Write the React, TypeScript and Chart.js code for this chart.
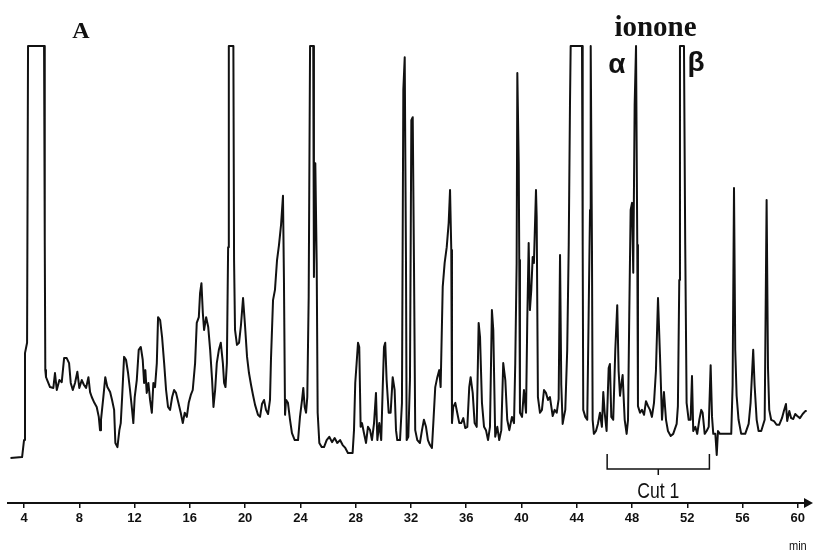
import React, { useEffect, useRef } from "react";
import { Chart, registerables } from "chart.js";

Chart.register(...registerables);

// Retention time (min) of each sampled point of the chromatogram trace
const TIME_MIN: number[] = [
  3.02, 3.86, 4.0, 4.07, 4.22, 4.29, 5.45, 5.5, 5.54, 5.59,
  5.88, 6.12, 6.24, 6.37, 6.56, 6.73, 6.9, 7.09, 7.26, 7.38,
  7.53, 7.69, 7.86, 8.0, 8.18, 8.34, 8.49, 8.66, 8.78, 8.9,
  9.09, 9.26, 9.41, 9.5, 9.57, 9.74, 9.88, 10.03, 10.23, 10.37,
  10.52, 10.61, 10.76, 10.9, 11.0, 11.1, 11.24, 11.38, 11.53, 11.67,
  11.82, 11.91, 12.01, 12.16, 12.3, 12.45, 12.59, 12.69, 12.78, 12.88,
  13.0, 13.12, 13.25, 13.36, 13.48, 13.61, 13.7, 13.85, 13.99, 14.14,
  14.28, 14.42, 14.57, 14.72, 14.86, 15.0, 15.17, 15.34, 15.49, 15.63,
  15.78, 15.92, 16.07, 16.21, 16.38, 16.5, 16.65, 16.74, 16.84, 16.94,
  17.03, 17.18, 17.33, 17.47, 17.61, 17.71, 17.83, 17.95, 18.1, 18.24,
  18.39, 18.48, 18.58, 18.68, 18.77, 18.82, 19.15, 19.2, 19.27, 19.41,
  19.56, 19.7, 19.85, 19.99, 20.14, 20.28, 20.43, 20.57, 20.72, 20.93,
  21.08, 21.22, 21.37, 21.51, 21.66, 21.8, 21.87, 22.02, 22.16, 22.31,
  22.45, 22.6, 22.74, 22.81, 22.89, 22.96, 23.1, 23.25, 23.39, 23.59,
  23.83, 23.97, 24.12, 24.21, 24.31, 24.41, 24.5, 24.6, 24.7, 24.93,
  24.98, 25.08, 25.18, 25.25, 25.37, 25.54, 25.71, 25.9, 26.09, 26.29,
  26.48, 26.67, 26.87, 27.06, 27.25, 27.44, 27.78, 27.88, 27.97, 28.07,
  28.17, 28.26, 28.36, 28.46, 28.6, 28.75, 28.89, 29.04, 29.18, 29.33,
  29.47, 29.57, 29.71, 29.85, 29.96, 30.05, 30.14, 30.24, 30.39, 30.53,
  30.68, 30.82, 30.92, 31.01, 31.21, 31.35, 31.45, 31.55, 31.64, 31.69,
  31.81, 31.93, 32.03, 32.13, 32.22, 32.31, 32.46, 32.65, 32.8, 32.94,
  33.09, 33.23, 33.38, 33.52, 33.62, 33.76, 33.91, 34.05, 34.15, 34.3,
  34.44, 34.59, 34.73, 34.83, 34.92, 34.97, 35.06, 35.21, 35.35, 35.5,
  35.64, 35.79, 35.93, 36.08, 36.22, 36.32, 36.47, 36.61, 36.76, 36.9,
  37.0, 37.14, 37.29, 37.43, 37.58, 37.72, 37.86, 37.96, 38.1, 38.25,
  38.39, 38.54, 38.68, 38.83, 38.97, 39.12, 39.31, 39.46, 39.55, 39.65,
  39.7, 39.8, 39.84, 39.89, 40.04, 40.18, 40.33, 40.42, 40.52, 40.61,
  40.71, 40.81, 40.9, 41.05, 41.1, 41.19, 41.34, 41.48, 41.63, 41.77,
  41.92, 42.06, 42.26, 42.4, 42.55, 42.69, 42.79, 42.88, 42.98, 43.07,
  43.17, 43.31, 43.42, 43.51, 43.56, 44.38, 44.43, 44.47, 44.62, 44.76,
  44.86, 44.96, 45.01, 45.1, 45.15, 45.24, 45.39, 45.53, 45.68, 45.82,
  45.92, 46.02, 46.16, 46.31, 46.4, 46.5, 46.64, 46.79, 46.93, 47.03,
  47.13, 47.22, 47.32, 47.47, 47.61, 47.71, 47.8, 47.9, 48.0, 48.09,
  48.19, 48.29, 48.38, 48.43, 48.58, 48.72, 48.87, 49.01, 49.16, 49.3,
  49.44, 49.59, 49.73, 49.88, 50.02, 50.17, 50.31, 50.46, 50.6, 50.8,
  50.98, 51.23, 51.32, 51.42, 51.47, 51.76, 51.85, 51.95, 52.1, 52.24,
  52.34, 52.43, 52.58, 52.72, 52.87, 53.01, 53.11, 53.26, 53.4, 53.55,
  53.69, 53.79, 53.88, 54.03, 54.13, 54.22, 54.36, 54.85, 55.18, 55.28,
  55.38, 55.47, 55.57, 55.71, 55.9, 56.19, 56.44, 56.58, 56.77, 56.87,
  57.02, 57.16, 57.35, 57.6, 57.74, 57.84, 57.93, 58.07, 58.27, 58.46,
  58.65, 58.85, 58.99, 59.14, 59.23, 59.38, 59.52, 59.67, 59.81, 59.96,
  60.15, 60.35, 60.54, 60.64,
];

// Detector signal (% of full scale; 100 = clipped at the top of the record)
const SIGNAL: number[] = [
  0.5, 0.7, 4.8, 25.8, 28.3, 100, 100, 53.1, 21.7, 20.0,
  17.6, 17.4, 21.0, 16.9, 19.3, 18.8, 24.6, 24.6, 23.4, 18.6,
  16.9, 18.6, 21.3, 17.4, 19.3, 18.1, 17.4, 20.0, 16.4, 15.2,
  13.8, 12.8, 10.4, 7.2, 9.7, 15.2, 20.0, 17.6, 16.4, 14.5,
  12.1, 4.1, 3.1, 7.2, 8.9, 15.2, 24.9, 24.2, 21.0, 16.9,
  12.1, 8.9, 15.2, 19.3, 26.6, 27.3, 24.2, 18.6, 21.7, 16.2,
  18.6, 14.5, 11.4, 18.6, 17.6, 23.4, 34.5, 33.8, 29.7, 23.4,
  16.9, 12.8, 12.1, 15.2, 16.9, 16.2, 13.8, 11.4, 8.9, 11.4,
  10.4, 13.8, 15.7, 16.9, 23.4, 33.1, 34.5, 40.3, 42.7, 35.5,
  31.4, 34.5, 32.1, 26.6, 19.3, 12.8, 16.9, 23.4, 26.6, 28.3,
  23.4, 18.6, 17.6, 23.4, 51.4, 100, 100, 48.3, 31.4, 27.8,
  28.3, 32.6, 39.1, 32.6, 24.9, 21.0, 18.1, 15.7, 13.3, 10.9,
  10.4, 13.5, 14.5, 12.1, 11.1, 14.5, 24.2, 38.6, 41.1, 48.3,
  51.9, 56.8, 63.8, 43.5, 10.9, 14.5, 13.8, 9.7, 6.5, 4.8,
  4.8, 10.4, 14.5, 17.4, 12.8, 11.4, 15.2, 39.4, 100, 100,
  44.2, 71.7, 47.6, 11.4, 4.1, 3.1, 3.1, 4.8, 5.6, 4.3,
  5.3, 4.1, 4.8, 3.6, 2.9, 1.7, 1.7, 7.2, 18.6, 23.4,
  28.3, 27.3, 8.0, 8.9, 6.5, 4.1, 8.0, 7.2, 4.8, 8.9,
  16.2, 4.8, 8.9, 4.8, 17.6, 27.3, 28.3, 19.3, 11.4, 11.4,
  20.0, 16.9, 7.2, 4.8, 4.8, 13.8, 89.4, 97.3, 49.0, 4.8,
  5.6, 19.3, 82.1, 82.8, 47.6, 7.2, 4.8, 4.1, 7.2, 9.7,
  8.0, 4.8, 3.6, 2.9, 8.9, 17.6, 20.0, 21.7, 17.6, 41.8,
  47.6, 51.4, 57.2, 65.2, 50.7, 8.9, 12.8, 13.8, 11.4, 8.9,
  8.9, 10.1, 7.7, 8.0, 17.6, 20.0, 16.2, 8.9, 8.0, 33.1,
  29.7, 13.8, 8.0, 7.2, 4.8, 8.0, 36.2, 31.4, 5.6, 8.0,
  4.8, 7.2, 23.4, 19.3, 9.7, 7.2, 10.4, 8.9, 23.4, 47.6,
  93.5, 71.7, 48.3, 11.4, 10.4, 16.9, 11.4, 33.8, 52.4, 36.2,
  41.1, 49.0, 47.6, 65.2, 58.7, 15.2, 11.4, 12.1, 16.9, 16.2,
  14.5, 15.2, 10.6, 12.1, 11.4, 14.7, 49.5, 18.1, 8.7, 10.4,
  12.1, 26.6, 51.9, 85.7, 100, 100, 51.9, 12.1, 10.4, 9.7,
  35.0, 60.4, 100, 51.9, 9.7, 6.3, 7.0, 8.7, 11.4, 8.0,
  16.4, 11.4, 7.0, 22.2, 23.2, 10.4, 9.7, 26.6, 37.4, 21.5,
  15.5, 18.1, 20.5, 9.7, 6.3, 9.7, 35.0, 60.4, 62.1, 45.2,
  85.7, 100, 51.9, 13.0, 11.4, 12.1, 10.9, 14.2, 13.0, 12.1,
  10.4, 13.8, 21.5, 39.1, 25.6, 9.7, 16.4, 9.7, 7.0, 5.8,
  6.3, 8.7, 13.0, 43.5, 100, 100, 51.9, 13.8, 9.7, 9.7,
  20.3, 7.0, 8.0, 6.3, 9.7, 12.1, 11.4, 6.3, 7.0, 8.0,
  22.9, 10.4, 6.3, 6.3, 1.2, 7.0, 6.3, 6.3, 6.3, 18.1,
  65.7, 26.6, 15.5, 9.7, 6.3, 6.3, 8.7, 13.8, 26.6, 18.1,
  9.7, 7.0, 7.0, 9.7, 62.8, 22.2, 12.1, 9.7, 9.4, 8.5,
  8.5, 10.1, 11.8, 13.5, 9.4, 11.8, 10.1, 9.9, 11.1, 10.6,
  10.1, 11.1, 11.8, 11.8,
];

const X_TICKS: number[] = [4, 8, 12, 16, 20, 24, 28, 32, 36, 40, 44, 48, 52, 56, 60];
const X_RANGE: number[] = [2.84, 60.88];
const Y_RANGE: number[] = [-10.4, 100];
const CUT_RANGE: number[] = [46.2, 53.6];
const CUT_LABEL = "Cut 1";
const PANEL_LABEL = "A";
const COMPOUND_LABEL = "ionone";
const ALPHA_LABEL = "α";
const BETA_LABEL = "β";
const ALPHA_TIME = 46.9;
const BETA_TIME = 52.63;
const COMPOUND_TIME = 49.7;
const PANEL_TIME = 8.12;
const UNIT_LABEL = "min";

const INK = "#111111";

const decorPlugin = {
  id: "decor",
  afterDraw(chart: any) {
    const { ctx, chartArea, scales } = chart;
    const xs = scales.x;
    const axisY = xs.top;
    ctx.save();
    ctx.fillStyle = INK;
    ctx.strokeStyle = INK;

    // arrow head at the end of the time axis
    const tip = chartArea.right + 3;
    ctx.beginPath();
    ctx.moveTo(tip, axisY);
    ctx.lineTo(tip - 9, axisY - 5);
    ctx.lineTo(tip - 9, axisY + 5);
    ctx.closePath();
    ctx.fill();

    // unit label under the last tick
    ctx.save();
    ctx.translate(xs.getPixelForValue(60), axisY + 43);
    ctx.scale(0.85, 1);
    ctx.font = "13px 'Liberation Sans', Arial, sans-serif";
    ctx.textAlign = "center";
    ctx.textBaseline = "middle";
    ctx.fillText(UNIT_LABEL, 0, 0);
    ctx.restore();

    // cut bracket
    const x0 = xs.getPixelForValue(CUT_RANGE[0]);
    const x1 = xs.getPixelForValue(CUT_RANGE[1]);
    const xm = (x0 + x1) / 2;
    const yTop = axisY - 49;
    const yBar = axisY - 34;
    ctx.lineWidth = 1.5;
    ctx.beginPath();
    ctx.moveTo(x0, yTop);
    ctx.lineTo(x0, yBar);
    ctx.lineTo(x1, yBar);
    ctx.lineTo(x1, yTop);
    ctx.moveTo(xm, yBar);
    ctx.lineTo(xm, yBar + 6);
    ctx.stroke();

    ctx.save();
    ctx.translate(xm, axisY - 11);
    ctx.scale(0.8, 1);
    ctx.font = "22px 'Liberation Sans', Arial, sans-serif";
    ctx.textAlign = "center";
    ctx.textBaseline = "middle";
    ctx.fillText(CUT_LABEL, 0, 0);
    ctx.restore();

    // panel and peak labels
    const top = chartArea.top;
    ctx.textAlign = "center";
    ctx.textBaseline = "alphabetic";
    ctx.font = "bold 24px 'Liberation Serif', 'Times New Roman', serif";
    ctx.fillText(PANEL_LABEL, xs.getPixelForValue(PANEL_TIME), top - 8);
    ctx.font = "bold 29px 'Liberation Serif', 'Times New Roman', serif";
    ctx.fillText(COMPOUND_LABEL, xs.getPixelForValue(COMPOUND_TIME), top - 10);
    ctx.font = "bold 28px 'Liberation Sans', Arial, sans-serif";
    ctx.fillText(ALPHA_LABEL, xs.getPixelForValue(ALPHA_TIME), top + 27);
    ctx.fillText(BETA_LABEL, xs.getPixelForValue(BETA_TIME), top + 25);
    ctx.restore();
  },
};

export default function App() {
  const canvasRef = useRef<HTMLCanvasElement | null>(null);

  useEffect(() => {
    const canvas = canvasRef.current;
    if (!canvas) return;
    const points = TIME_MIN.map((t, i) => ({ x: t, y: SIGNAL[i] }));
    const chart = new Chart(canvas, {
      type: "line",
      data: {
        datasets: [
          {
            data: points,
            borderColor: INK,
            borderWidth: 2,
            pointRadius: 0,
            tension: 0,
            fill: false,
            clip: false as any,
            borderJoinStyle: "round",
          },
        ],
      },
      options: {
        responsive: false,
        animation: false,
        devicePixelRatio: 1,
        layout: { padding: { left: 8, right: 8, top: 46, bottom: 0 } },
        plugins: { legend: { display: false }, tooltip: { enabled: false } },
        scales: {
          x: {
            type: "linear",
            min: X_RANGE[0],
            max: X_RANGE[1],
            afterBuildTicks: (s: any) => {
              s.ticks = X_TICKS.map((v) => ({ value: v }));
            },
            afterFit: (s: any) => {
              s.height = 48;
            },
            grid: {
              display: true,
              drawOnChartArea: false,
              drawTicks: true,
              tickLength: 5,
              color: INK,
              lineWidth: 1.5,
            },
            border: { display: true, color: INK, width: 2 },
            ticks: {
              color: INK,
              padding: 3,
              autoSkip: false,
              maxRotation: 0,
              font: {
                family: "'Liberation Sans Narrow', 'Arial Narrow', 'Liberation Sans', sans-serif",
                size: 13,
                weight: "bold",
              },
              callback: (v: any) => String(v),
            },
          },
          y: { display: false, min: Y_RANGE[0], max: Y_RANGE[1] },
        },
      },
      plugins: [decorPlugin],
    });
    return () => chart.destroy();
  }, []);

  return (
    <div style={{ position: "absolute", left: 0, top: 0, width: 818, height: 551, background: "#fff" }}>
      <canvas ref={canvasRef} width={818} height={551} style={{ display: "block" }} />
    </div>
  );
}
